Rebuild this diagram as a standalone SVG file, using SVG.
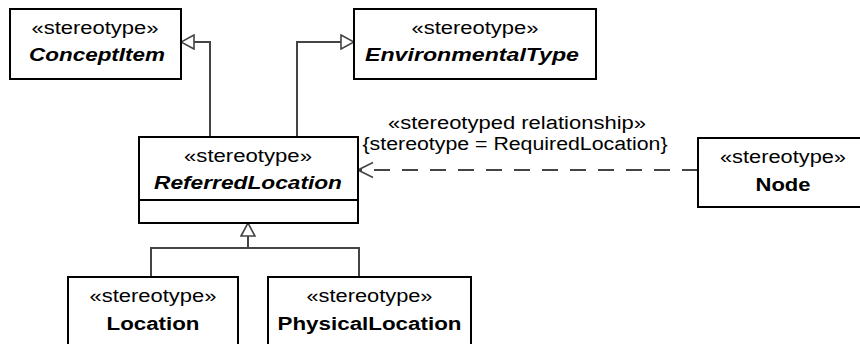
<svg xmlns="http://www.w3.org/2000/svg" width="860" height="344" viewBox="0 0 860 344">
<defs>
<style>
.box{fill:#fff;stroke:#000;stroke-width:2}
.st{font-family:"Liberation Sans",Arial,sans-serif;font-size:18px;fill:#000;text-anchor:middle}
.nm{font-family:"Liberation Sans",Arial,sans-serif;font-size:18px;font-weight:bold;fill:#000;text-anchor:middle}
.it{font-style:italic}
.ln{fill:none;stroke:#444;stroke-width:2}
.dash{stroke-dasharray:16 12}
</style>
<marker id="tri" viewBox="0 0 15 16" refX="14" refY="8" markerWidth="15" markerHeight="16" markerUnits="userSpaceOnUse" orient="auto">
<path d="M1,1 L14,8 L1,15 Z" fill="#fff" stroke="#444" stroke-width="1.6" stroke-dasharray="none"/>
</marker>
<marker id="open" viewBox="0 0 17 18" refX="16" refY="9" markerWidth="17" markerHeight="18" markerUnits="userSpaceOnUse" orient="auto">
<path d="M1,1.5 L16,9 L1,16.5" fill="none" stroke="#444" stroke-width="1.6" stroke-dasharray="none"/>
</marker>
</defs>
<rect width="860" height="344" fill="#fff"/>
<g id="connectors">
<path class="ln" d="M210,137 V42 H181" marker-end="url(#tri)"/>
<path class="ln" d="M297,137 V42 H354" marker-end="url(#tri)"/>
<path class="ln" d="M151,277 V248 H359 V277"/>
<path class="ln" d="M248,248 V223" marker-end="url(#tri)"/>
<path class="ln dash" d="M698,170 H358" marker-end="url(#open)"/>
<text class="st" x="517" y="129" textLength="258" lengthAdjust="spacingAndGlyphs">«stereotyped relationship»</text>
<text class="st" x="515" y="150" textLength="305" lengthAdjust="spacingAndGlyphs">{stereotype = RequiredLocation}</text>
</g>
<g id="ConceptItem">
<rect class="box" x="10" y="9" width="171" height="70"/>
<text class="st" x="95" y="34" textLength="127" lengthAdjust="spacingAndGlyphs">«stereotype»</text>
<text class="nm it" x="97" y="61" textLength="136" lengthAdjust="spacingAndGlyphs">ConceptItem</text>
</g>
<g id="EnvironmentalType">
<rect class="box" x="354" y="9" width="242" height="70"/>
<text class="st" x="475" y="34" textLength="127" lengthAdjust="spacingAndGlyphs">«stereotype»</text>
<text class="nm it" x="472" y="61" textLength="214" lengthAdjust="spacingAndGlyphs">EnvironmentalType</text>
</g>
<g id="ReferredLocation">
<rect class="box" x="139" y="137" width="219" height="86"/>
<line x1="139" y1="200" x2="358" y2="200" stroke="#000" stroke-width="2"/>
<text class="st" x="248" y="162" textLength="128" lengthAdjust="spacingAndGlyphs">«stereotype»</text>
<text class="nm it" x="248" y="189" textLength="188" lengthAdjust="spacingAndGlyphs">ReferredLocation</text>
</g>
<g id="Node">
<rect class="box" x="698" y="138" width="170" height="69"/>
<text class="st" x="783" y="163" textLength="126" lengthAdjust="spacingAndGlyphs">«stereotype»</text>
<text class="nm" x="783" y="191" textLength="55" lengthAdjust="spacingAndGlyphs">Node</text>
</g>
<g id="Location">
<rect class="box" x="68" y="277" width="170" height="80"/>
<text class="st" x="153" y="302" textLength="127" lengthAdjust="spacingAndGlyphs">«stereotype»</text>
<text class="nm" x="153" y="330" textLength="93" lengthAdjust="spacingAndGlyphs">Location</text>
</g>
<g id="PhysicalLocation">
<rect class="box" x="268" y="277" width="203" height="80"/>
<text class="st" x="369.5" y="302" textLength="126" lengthAdjust="spacingAndGlyphs">«stereotype»</text>
<text class="nm" x="369.5" y="330" textLength="184" lengthAdjust="spacingAndGlyphs">PhysicalLocation</text>
</g>
</svg>
